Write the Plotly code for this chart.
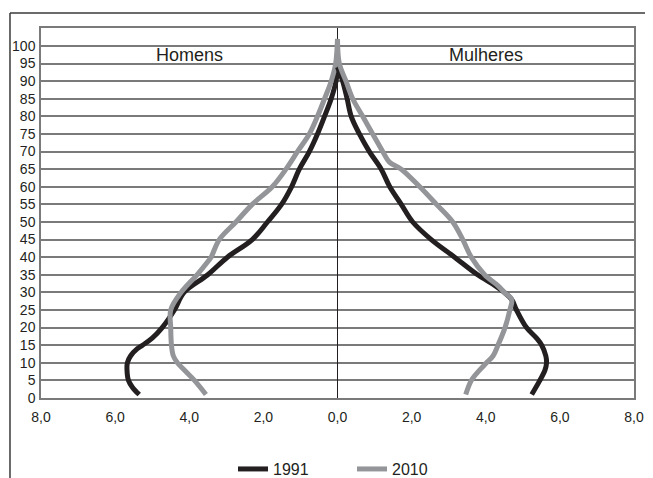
import plotly.graph_objects as go

# ---- data (percent of population by age) ----
ages_m1991 = [1, 3, 5, 8, 10, 12, 14, 15, 17, 20, 25, 30, 35, 40, 45, 50, 55, 60, 65, 70, 75, 80, 85, 90, 94]
male_1991 = [5.35, 5.53, 5.64, 5.68, 5.67, 5.58, 5.40, 5.26, 5.00, 4.73, 4.40, 4.14, 3.50, 2.97, 2.30, 1.89, 1.51, 1.24, 1.03, 0.76, 0.54, 0.35, 0.17, 0.04, 0.0]

ages_m2010 = [1, 5, 8, 10, 12, 15, 20, 25, 30, 35, 39, 40, 45, 50, 55, 60, 65, 70, 75, 80, 85, 90, 95, 102]
male_2010 = [3.55, 3.86, 4.14, 4.32, 4.43, 4.48, 4.50, 4.50, 4.22, 3.79, 3.48, 3.41, 3.19, 2.74, 2.30, 1.76, 1.39, 1.08, 0.76, 0.54, 0.35, 0.17, 0.05, 0.0]

ages_f1991 = [1, 5, 8, 10, 12, 15, 17, 20, 25, 28, 30, 32, 35, 40, 45, 50, 55, 60, 65, 70, 75, 80, 85, 90, 94]
female_1991 = [5.24, 5.46, 5.60, 5.64, 5.62, 5.51, 5.37, 5.10, 4.83, 4.70, 4.50, 4.24, 3.78, 3.16, 2.53, 2.03, 1.72, 1.41, 1.18, 0.86, 0.59, 0.37, 0.26, 0.14, 0.0]

ages_f2010 = [1, 5, 8, 10, 12, 15, 20, 25, 28, 30, 32, 35, 40, 45, 50, 55, 60, 65, 67, 70, 75, 80, 85, 90, 95, 102]
female_2010 = [3.46, 3.61, 3.84, 4.02, 4.20, 4.33, 4.52, 4.65, 4.70, 4.50, 4.32, 3.97, 3.61, 3.38, 3.11, 2.67, 2.22, 1.72, 1.40, 1.22, 0.95, 0.68, 0.41, 0.23, 0.05, 0.0]

y_tickvals = [0, 5, 10, 15, 20, 25, 30, 35, 40, 45, 50, 55, 60, 65, 70, 75, 80, 85, 90, 95, 100]
y_ticktext = ["0", "5", "10", "15", "20", "25", "30", "35", "40", "45", "50", "55", "60", "65", "70", "75", "80", "85", "90", "95", "100"]
x_tickvals = [-8, -6, -4, -2, 0, 2, 4, 6, 8]
x_ticktext = ["8,0", "6,0", "4,0", "2,0", "0,0", "2,0", "4,0", "6,0", "8,0"]

BLACK = "#231f20"
GRAY = "#939598"
GRID = "#7a7a7a"
FONT = "Liberation Sans, Arial, sans-serif"

fig = go.Figure()
fig.add_trace(go.Scatter(x=[-v for v in male_1991], y=ages_m1991, mode="lines", name="1991",
                         line=dict(color=BLACK, width=5, shape="spline", smoothing=1.0), showlegend=True))
fig.add_trace(go.Scatter(x=[-v for v in male_2010], y=ages_m2010, mode="lines", name="2010",
                         line=dict(color=GRAY, width=5, shape="spline", smoothing=1.0), showlegend=True))
fig.add_trace(go.Scatter(x=female_1991, y=ages_f1991, mode="lines", name="1991",
                         line=dict(color=BLACK, width=5, shape="spline", smoothing=1.0), showlegend=False))
fig.add_trace(go.Scatter(x=female_2010, y=ages_f2010, mode="lines", name="2010",
                         line=dict(color=GRAY, width=5, shape="spline", smoothing=1.0), showlegend=False))

# outer frame lines (top and left)
fig.add_shape(type="line", xref="paper", yref="paper", x0=-0.0523, x1=1.1, y0=1.0405, y1=1.0405,
              line=dict(color="#3a3a3a", width=1.5))
fig.add_shape(type="line", xref="paper", yref="paper", x0=-0.0523, x1=-0.0523, y0=1.0405, y1=-0.3,
              line=dict(color="#3a3a3a", width=1.5))

fig.add_annotation(x=-4.0, y=97.3, text="Homens", showarrow=False, xref="x", yref="y",
                   font=dict(family=FONT, size=18, color=BLACK), xanchor="center", yanchor="middle")
fig.add_annotation(x=4.0, y=97.3, text="Mulheres", showarrow=False, xref="x", yref="y",
                   font=dict(family=FONT, size=18, color=BLACK), xanchor="center", yanchor="middle")
fig.add_annotation(x=1.02, y=-0.007, text="%", showarrow=False, xref="paper", yref="paper",
                   font=dict(family=FONT, size=14, color=BLACK), xanchor="left", yanchor="middle")

# The page body adds an 8px offset, so the figure is 8px smaller on each axis
fig.update_layout(
    width=645, height=470,
    margin=dict(l=33, r=19, t=20, b=80, autoexpand=False),
    paper_bgcolor="white", plot_bgcolor="white",
    font=dict(family=FONT, color=BLACK),
    showlegend=True,
    legend=dict(orientation="h", x=0.3238, xanchor="left", y=-0.192, yanchor="middle",
                font=dict(family=FONT, size=16, color=BLACK),
                entrywidth=74, entrywidthmode="pixels", bgcolor="rgba(0,0,0,0)"),
    xaxis=dict(range=[-8, 8], tickvals=x_tickvals, ticktext=x_ticktext, showgrid=False,
               zeroline=True, zerolinecolor=BLACK, zerolinewidth=1,
               showline=True, linecolor=GRID, linewidth=1.5, mirror=True, automargin=False,
               ticks="", ticklabelstandoff=5, tickfont=dict(family=FONT, size=14, color=BLACK),
               fixedrange=True),
    yaxis=dict(range=[0, 105.1], tickvals=y_tickvals, ticktext=y_ticktext,
               showgrid=True, gridcolor=GRID, gridwidth=1.5, zeroline=False,
               showline=True, linecolor=GRID, linewidth=1.5, mirror=True, automargin=False,
               ticks="", ticklabelstandoff=1, tickfont=dict(family=FONT, size=14, color=BLACK),
               fixedrange=True),
)

fig.write_html("out.html")
